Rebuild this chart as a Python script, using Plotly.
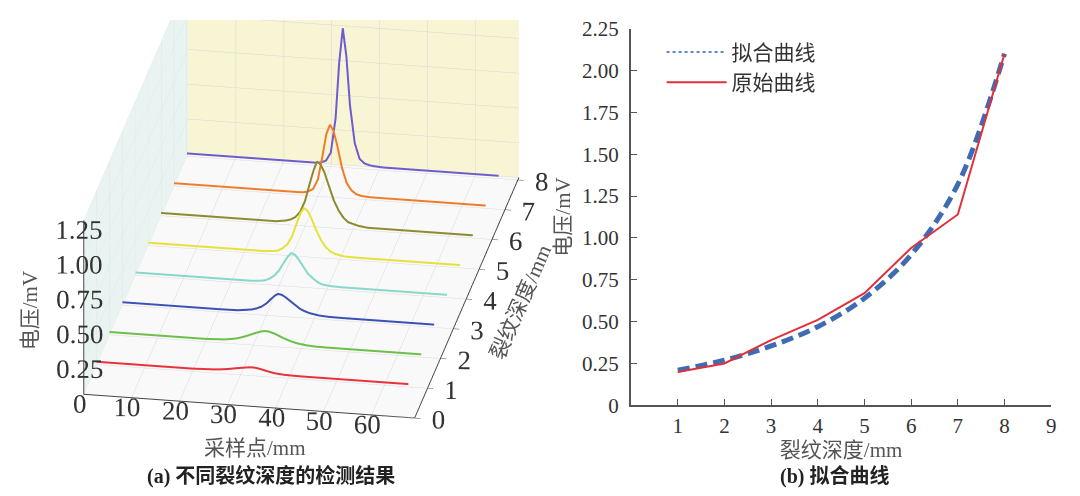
import plotly.graph_objects as go

# ---- panel (a): detection results for different crack depths ----
sample_pts = [0, 10, 20, 24, 26, 27, 28, 29, 30, 31, 31.75, 32.5, 33.25,
              34, 35, 36, 37, 38, 39, 41, 43, 46, 55, 65]
depths = [1, 2, 3, 4, 5, 6, 7, 8]
v_d1 = [0.02, 0.02, 0.02, 0.025, 0.03, 0.034, 0.039, 0.045, 0.05, 0.055, 0.058, 0.06, 0.058,
        0.053, 0.045, 0.037, 0.03, 0.026, 0.023, 0.021, 0.02, 0.02, 0.02, 0.02]
v_d2 = [0.02, 0.02, 0.02, 0.026, 0.036, 0.044, 0.055, 0.068, 0.082, 0.095, 0.103, 0.107, 0.105,
        0.098, 0.085, 0.07, 0.056, 0.045, 0.036, 0.026, 0.021, 0.02, 0.02, 0.02]
v_d3 = [0.02, 0.02, 0.02, 0.022, 0.03, 0.035, 0.045, 0.06, 0.085, 0.12, 0.145, 0.16, 0.155,
        0.14, 0.115, 0.09, 0.065, 0.05, 0.038, 0.026, 0.021, 0.02, 0.02, 0.02]
v_d4 = [0.02, 0.02, 0.02, 0.02, 0.025, 0.03, 0.045, 0.07, 0.11, 0.17, 0.21, 0.24, 0.23,
        0.20, 0.15, 0.10, 0.07, 0.045, 0.03, 0.022, 0.02, 0.02, 0.02, 0.02]
v_d5 = [0.02, 0.02, 0.02, 0.02, 0.025, 0.03, 0.05, 0.08, 0.14, 0.24, 0.31, 0.35, 0.33,
        0.28, 0.20, 0.13, 0.08, 0.05, 0.035, 0.022, 0.02, 0.02, 0.02, 0.02]
v_d6 = [0.02, 0.02, 0.02, 0.02, 0.03, 0.04, 0.06, 0.10, 0.18, 0.31, 0.40, 0.47, 0.45,
        0.40, 0.30, 0.20, 0.13, 0.08, 0.05, 0.03, 0.02, 0.02, 0.02, 0.02]
v_d7 = [0.02, 0.02, 0.02, 0.02, 0.02, 0.022, 0.03, 0.05, 0.12, 0.30, 0.45, 0.52, 0.48,
        0.38, 0.22, 0.11, 0.06, 0.035, 0.025, 0.02, 0.02, 0.02, 0.02, 0.02]
v_d8 = [0.02, 0.02, 0.02, 0.02, 0.02, 0.02, 0.025, 0.04, 0.10, 0.35, 0.75, 1.00, 0.80,
        0.45, 0.18, 0.07, 0.04, 0.03, 0.025, 0.02, 0.02, 0.02, 0.02, 0.02]
curves = [v_d1, v_d2, v_d3, v_d4, v_d5, v_d6, v_d7, v_d8]
curve_colors = ['#e8323c', '#6cc04a', '#3b52b4', '#86d8c8', '#e4e23c', '#8c8c2c', '#f07c2a', '#6f5bd0']

# ---- panel (b): fitted curve ----
crack_depth = [1, 2, 3, 4, 5, 6, 7, 8]
v_original = [0.20, 0.25, 0.39, 0.51, 0.67, 0.94, 1.14, 2.10]
v_fitted = [0.21, 0.27, 0.355, 0.47, 0.64, 0.90, 1.32, 2.10]

serif = 'Liberation Serif, Noto Sans CJK SC'
tick_font = dict(family=serif, size=21, color='#333333')
title_font = dict(family=serif, size=21, color='#555555')
tick_font3d = dict(family=serif, size=18, color='#333333')
title_font3d = dict(family=serif, size=21, color='#555555')

fig = go.Figure()

for d, vals, c in zip(depths, curves, curve_colors):
    fig.add_trace(go.Scatter3d(x=sample_pts, y=[d] * len(sample_pts), z=vals,
                               mode='lines', line=dict(color=c, width=4),
                               showlegend=False, hoverinfo='skip'))

fig.add_trace(go.Scatter(x=crack_depth, y=v_fitted, mode='lines', line_shape='spline',
                         line=dict(color='#3f6bb3', width=5, dash='12px,6px'),
                         showlegend=False, xaxis='x', yaxis='y'))
fig.add_trace(go.Scatter(x=crack_depth, y=v_original, mode='lines',
                         line=dict(color='#e0303a', width=2),
                         name='原始曲线', xaxis='x', yaxis='y'))
# legend sample for the fitted curve (drawn dotted as in the source figure)
fig.add_trace(go.Scatter(x=[None], y=[None], mode='lines',
                         line=dict(color='#5b8ac6', width=2, dash='dot'),
                         name='拟合曲线', xaxis='x', yaxis='y'))

axis3d = dict(showline=True, linecolor='#444444', linewidth=2, ticks='inside',
              ticklen=6, tickcolor='#444444', tickfont=tick_font3d, tickangle=0,
              gridcolor='#d8d8d8', gridwidth=1, zeroline=False,
              showspikes=False, title_font=title_font3d)

fig.update_layout(
    width=1080, height=496,
    margin=dict(l=0, r=0, t=0, b=0),
    paper_bgcolor='white', plot_bgcolor='white',
    scene=dict(
        domain=dict(x=[0.0, 0.515], y=[0.05, 1.0]),
        xaxis=dict(axis3d, range=[0, 69], tickvals=[10, 20, 30, 40, 50, 60],
                   title=dict(text=''),
                   showbackground=True, backgroundcolor='#e9f4f2'),
        yaxis=dict(axis3d, range=[0, 8.08], tickvals=[0] + depths,
                   title=dict(text='裂纹深度/mm'),
                   showbackground=True, backgroundcolor='#f7f5d4'),
        zaxis=dict(axis3d, range=[0, 1.25], tickvals=[0, 0.25, 0.5, 0.75, 1.0, 1.25],
                   ticktext=['0', '0.25', '0.50', '0.75', '1.00', '1.25'],
                   title=dict(text=''),
                   showbackground=True, backgroundcolor='#f9f9f9'),
        aspectmode='manual', aspectratio=dict(x=1.50, y=2.68, z=0.85),
        camera=dict(eye=dict(x=0.1964, y=-1.5325, z=0.467),
                    center=dict(x=-0.0574, y=-0.0931, z=-0.1837),
                    up=dict(x=0, y=0, z=1),
                    projection=dict(type='orthographic')),
        bgcolor='rgba(0,0,0,0)',
    ),
    xaxis=dict(domain=[0.5796, 0.9704], range=[0, 9], tickvals=list(range(1, 10)),
               showline=True, linecolor='#555555', linewidth=2, ticks='inside',
               ticklen=6, tickcolor='#555555', tickfont=tick_font, showgrid=False,
               ticklabelstandoff=0,
               zeroline=False, title=dict(text='裂纹深度/mm', font=title_font, standoff=0),
               anchor='y'),
    yaxis=dict(domain=[0.1835, 0.9819], range=[0, 2.25],
               tickvals=[0, 0.25, 0.5, 0.75, 1.0, 1.25, 1.5, 1.75, 2.0, 2.25],
               ticktext=['0', '0.25', '0.50', '0.75', '1.00', '1.25', '1.50', '1.75', '2.00', '2.25'],
               ticklabeloverflow='allow', ticklabelstandoff=6,
               showline=True, linecolor='#555555', linewidth=2, ticks='inside',
               ticklen=6, tickcolor='#555555', tickfont=tick_font, showgrid=False,
               zeroline=False, title=dict(text='电压/mV', font=title_font, standoff=6),
               anchor='x'),
    legend=dict(x=0.608, y=0.975, xanchor='left', yanchor='top', traceorder='reversed',
                bgcolor='rgba(0,0,0,0)', font=dict(family=serif, size=21, color='#333333'),
                itemwidth=60, tracegroupgap=0),
    annotations=[
        # axis titles of the 3d panel
        dict(text='电压/mV', x=0.0204, y=0.385, xref='paper', yref='paper', textangle=-90,
             xanchor='center', yanchor='middle', showarrow=False, font=title_font),
        dict(text='采样点/mm', x=0.2296, y=0.0927, xref='paper', yref='paper',
             xanchor='center', yanchor='middle', showarrow=False, font=title_font),
        dict(text='<b>(a) 不同裂纹深度的检测结果</b>', x=0.245, y=0.005, xref='paper', yref='paper',
             xanchor='center', yanchor='bottom', showarrow=False,
             font=dict(family=serif, size=20, color='#222222')),
        dict(text='<b>(b) 拟合曲线</b>', x=0.7685, y=0.005, xref='paper', yref='paper',
             xanchor='center', yanchor='bottom', showarrow=False,
             font=dict(family=serif, size=20, color='#222222')),
    ],
)

fig.write_html('out.html')
